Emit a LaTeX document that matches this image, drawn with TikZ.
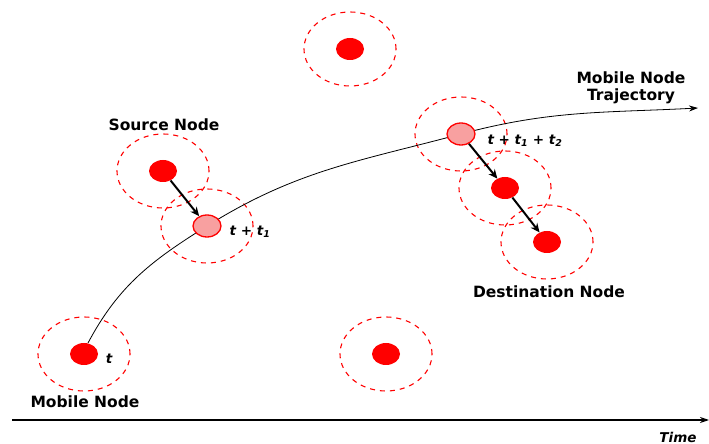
\documentclass[tikz,border=0pt]{standalone}
\usepackage{fontspec}
\setmainfont{DejaVu Sans}
\usepackage{tikz}
\usetikzlibrary{arrows.meta,shapes.geometric}
\definecolor{hoppink}{RGB}{248,160,160}

\begin{document}
\begin{tikzpicture}[x=1pt,y=1pt,>=Stealth,
  radio/.style={ellipse,draw=red,dash pattern=on 5pt off 5pt,line width=1.1pt,minimum width=92pt,minimum height=74pt,inner sep=0pt},
  mnode/.style={ellipse,fill=red,inner sep=0pt,minimum width=28pt,minimum height=22pt},
  hop/.style={ellipse,draw=red,fill=hoppink,line width=1.3pt,inner sep=0pt,minimum width=28pt,minimum height=22pt},
  lbl/.style={font=\bfseries\fontsize{15.5}{17}\selectfont},
  tlbl/.style={font=\bfseries\itshape\fontsize{13.5}{15}\selectfont}]
\useasboundingbox (0,0) rectangle (709,444);
% ranges
\node[radio](top-r) at (350,395){};
\node[radio](src-r) at (163,273){};
\node[radio](hop1-r) at (207,218){};
\node[radio](hop2-r) at (461,310){};
\node[radio](mid-r) at (505,256){};
\node[radio](dst-r) at (547,202){};
\node[radio](mob-r) at (84,90){};
\node[radio](bot-r) at (386,90){};
% nodes
\node[mnode](top) at (350,395){};
\node[mnode](src) at (163,273){};
\node[mnode](mid) at (505,256){};
\node[mnode](dst) at (547,202){};
\node[mnode](mob) at (84,90){};
\node[mnode](bot) at (386,90){};
\coordinate(start) at (88,101);
\coordinate(end) at (698,336);
% trajectory
\draw[-{Stealth[length=9pt,width=6pt]},line width=0.8pt](start) to[out=62,in=212] (207,218) to[out=32,in=195] (461,310) to[out=15,in=183] (end);
\node[hop](hop1) at (207,218){};
\node[hop](hop2) at (461,310){};
\draw[-{Stealth[length=9pt,width=8pt]},line width=2pt](src)--(hop1);
\draw[-{Stealth[length=9pt,width=8pt]},line width=2pt](hop2)--(mid);
\draw[-{Stealth[length=9pt,width=8pt]},line width=2pt](mid)--(dst);
% time axis
\coordinate(t0) at (12,24);
\coordinate(t1) at (709,24);
\draw[-{Stealth[length=9pt,width=6pt]},line width=1.3pt](t0)--(t1);
% labels
\node[lbl](srclbl) at (164,319){Source Node};
\node[lbl,align=center](trajlbl) at (631,356){Mobile Node\\Trajectory};
\node[lbl](dstlbl) at (549,152){Destination Node};
\node[lbl](moblbl) at (85,42){Mobile Node};
\node[tlbl](tlbl0) at (109,85){t};
\node[tlbl](tlbl1) at (250,212){t + t\textsubscript{1}};
\node[tlbl](tlbl2) at (525,303){t + t\textsubscript{1} + t\textsubscript{2}};
\node[tlbl](timelbl) at (678,7){Time};
\end{tikzpicture}
\end{document}
